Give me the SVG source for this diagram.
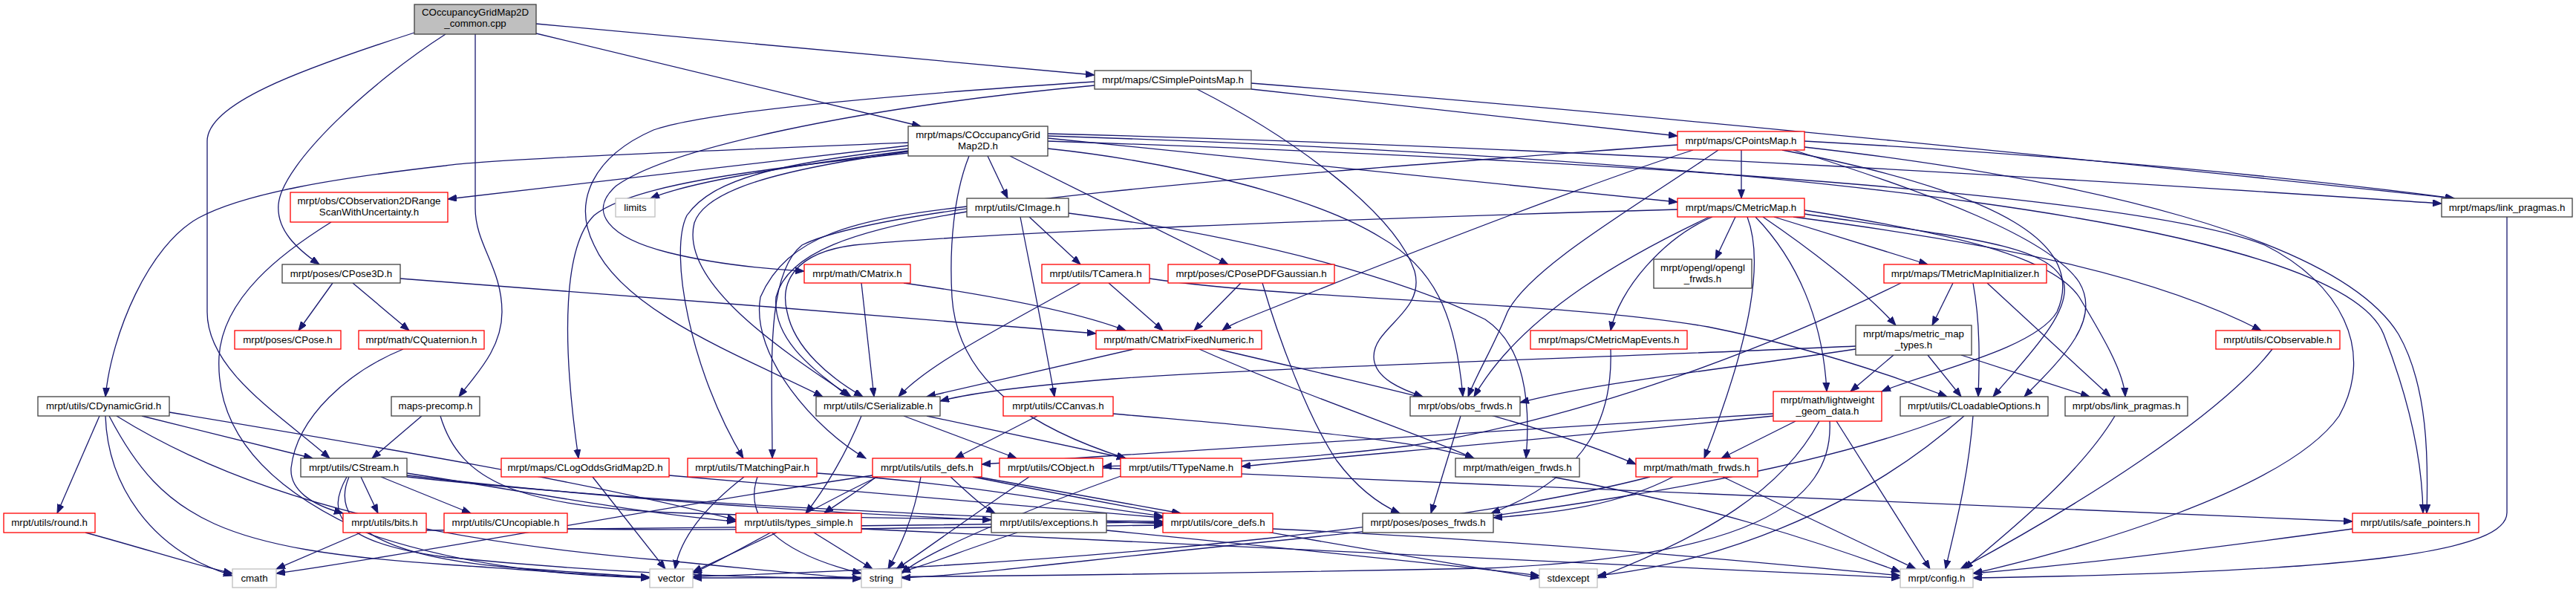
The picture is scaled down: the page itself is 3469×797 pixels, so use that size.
<svg xmlns="http://www.w3.org/2000/svg" width="3469" height="797" viewBox="0 0 3469 797">
<style>
.n rect{fill:#fff;stroke-width:1.3}
.blk rect{stroke:#404040}
.red rect{stroke:#ff0000}
.gry rect{stroke:#bfbfbf}
.root rect{fill:#bfbfbf;stroke:#404040}
.n text{font-family:"Liberation Sans",Arial,sans-serif;font-size:13.3px;fill:#000;text-anchor:middle}
#edges path{fill:none;stroke:#191970;stroke-width:1.3;marker-end:url(#ah)}
</style>
<defs>
<marker id="ah" markerUnits="userSpaceOnUse" markerWidth="13" markerHeight="10" refX="12" refY="4.5" orient="auto"><path d="M0,0 L12,4.5 L0,9 z" fill="#191970" stroke="#191970" stroke-width="1"/></marker>
</defs>
<rect width="3469" height="797" fill="#fff"/>
<g id="edges">
<path d="M722,32 L1474,101"/>
<path d="M722,45 L1240,170"/>
<path d="M600,46 C500,110 380,220 375,275 C372,310 400,335 430,356"/>
<path d="M558,44 C400,95 279,140 279,190 L279,420 C279,500 380,560 444,617"/>
<path d="M640,46 L640,280 C640,330 676,360 676,420 C676,470 640,505 618,534"/>
<path d="M1685,120 L2259,183"/>
<path d="M1685,112 C2300,160 3000,235 3305,267"/>
<path d="M1612,120 C1750,190 1880,290 1905,365 C1920,420 1850,440 1850,480 C1850,510 1890,525 1916,534"/>
<path d="M1474,110 C1200,128 950,150 880,175 C800,210 770,270 800,330 C840,420 1000,480 1108,534"/>
<path d="M1474,115 C1150,145 900,200 830,250 C790,285 820,320 900,340 C960,355 1030,362 1083,365"/>
<path d="M1223,196 L603,268"/>
<path d="M1223,203 C1050,225 930,245 876,267"/>
<path d="M1223,192 C900,205 650,215 600,223 C450,240 330,260 268,293 C200,330 150,450 142,534"/>
<path d="M1223,206 C1000,230 850,250 800,290 C760,330 755,450 779,617"/>
<path d="M1223,200 C1050,220 960,240 925,290 C900,340 930,500 1001,617"/>
<path d="M1223,204 C1050,228 950,255 935,300 C915,380 1050,470 1146,534"/>
<path d="M1330,210 L1357,267"/>
<path d="M1360,210 L1654,356"/>
<path d="M1305,210 C1285,260 1278,330 1282,400 C1290,520 1400,580 1516,617"/>
<path d="M1411,186 L2259,272"/>
<path d="M1411,180 C2200,200 3000,255 3288,274"/>
<path d="M1411,183 C2400,215 3150,300 3210,450 C3245,540 3262,620 3263,691"/>
<path d="M1411,200 C1600,220 1780,270 1860,320 C1930,360 1960,420 1970,534"/>
<path d="M1411,190 C2300,220 2900,270 3050,330 C3150,380 3200,470 3150,560 C3080,660 2800,740 2657,772"/>
<path d="M2345,202 L2345,267"/>
<path d="M2430,190 C2800,210 3100,240 3305,267"/>
<path d="M2280,202 C2100,260 1800,380 1700,420 C1670,432 1655,438 1646,445"/>
<path d="M2314,202 C2200,280 2060,360 2030,420 C2010,470 1990,500 1977,534"/>
<path d="M2415,202 C2600,260 2760,320 2800,380 C2830,430 2780,480 2726,534"/>
<path d="M2430,198 C2800,240 3150,320 3230,450 C3270,520 3270,620 3268,691"/>
<path d="M2400,202 C2700,260 2810,330 2770,420 C2740,470 2600,500 2534,527"/>
<path d="M2259,195 C1800,230 1200,270 1080,330 C1030,370 1040,500 1040,617"/>
<path d="M2337,292 L2310,349"/>
<path d="M2306,292 C2240,320 2180,390 2169,445"/>
<path d="M2302,292 C2200,340 2050,420 1985,534"/>
<path d="M2353,292 C2375,350 2360,450 2295,617"/>
<path d="M2364,292 C2420,350 2455,430 2460,527"/>
<path d="M2374,292 C2430,330 2510,390 2553,438"/>
<path d="M2389,292 L2596,356"/>
<path d="M2430,283 C2600,310 2760,340 2800,400 C2830,450 2860,500 2862,534"/>
<path d="M2430,288 C2650,320 2760,330 2779,380 C2790,420 2730,480 2684,534"/>
<path d="M2415,292 C2700,330 2900,370 3045,445"/>
<path d="M2259,282 C1800,295 1300,315 1150,330 C1070,340 1050,380 1060,420 C1070,470 1120,510 1162,534"/>
<path d="M1386,292 L1455,356"/>
<path d="M1374,292 C1385,350 1400,420 1420,534"/>
<path d="M1302,285 C1150,310 1060,340 1045,400 C1040,460 1100,500 1143,534"/>
<path d="M1302,278 C1150,295 1060,317 1024,400 C1010,480 1100,580 1166,617"/>
<path d="M1439,287 C1700,320 1900,380 2000,430 C2060,470 2060,560 2055,617"/>
<path d="M1160,381 L1177,534"/>
<path d="M1217,381 C1350,400 1450,420 1516,445"/>
<path d="M1493,381 L1566,445"/>
<path d="M1455,381 C1350,440 1250,490 1210,534"/>
<path d="M1548,375 C1750,405 2100,405 2300,440 C2450,470 2560,510 2622,534"/>
<path d="M1671,381 L1608,445"/>
<path d="M1700,381 C1720,450 1760,560 1800,620 C1830,660 1860,680 1885,691"/>
<path d="M2630,381 L2602,438"/>
<path d="M2657,381 C2668,440 2665,500 2664,534"/>
<path d="M2676,381 L2842,534"/>
<path d="M2560,381 C2400,460 2150,560 1900,600 C1700,625 1550,625 1485,628"/>
<path d="M2550,478 L2492,527"/>
<path d="M2596,478 L2641,534"/>
<path d="M2641,478 L2814,534"/>
<path d="M2499,466 C2200,480 1700,495 1500,510 C1400,518 1310,528 1266,540"/>
<path d="M2499,470 C2300,500 2150,515 2047,542"/>
<path d="M1527,470 L1248,534"/>
<path d="M1615,470 C1750,530 1900,580 1985,617"/>
<path d="M1640,470 C1850,520 2050,560 2203,625"/>
<path d="M2169,470 C2172,557 2142,640 2008,691"/>
<path d="M3060,470 C2990,560 2800,680 2640,766"/>
<path d="M134,560 L77,691"/>
<path d="M142,560 C145,650 200,740 313,775"/>
<path d="M147,560 C220,700 300,740 600,760 C750,770 820,776 875,778"/>
<path d="M157,560 C350,680 600,730 900,755 C1000,765 1100,775 1160,779"/>
<path d="M191,560 L421,617"/>
<path d="M228,555 C500,600 800,650 991,700"/>
<path d="M568,560 L501,617"/>
<path d="M593,560 C620,650 700,680 900,690 C1200,700 1450,700 1566,702"/>
<path d="M1217,560 L1369,617"/>
<path d="M1160,560 C1140,610 1110,660 1085,691"/>
<path d="M1248,560 L1516,617"/>
<path d="M1397,560 L1286,617"/>
<path d="M1499,557 C1700,575 1900,590 1985,617"/>
<path d="M1967,560 L1927,691"/>
<path d="M2418,567 L2318,617"/>
<path d="M2473,567 L2599,766"/>
<path d="M2450,567 C2400,660 2300,720 2151,778"/>
<path d="M2464,567 C2470,680 2350,750 2000,765 C1500,775 1100,778 933,778"/>
<path d="M2388,557 C2100,575 1700,600 1322,625"/>
<path d="M2388,560 C2100,590 1800,615 1672,628"/>
<path d="M2657,560 C2650,650 2630,720 2620,766"/>
<path d="M2645,560 C2500,690 2300,760 2151,775"/>
<path d="M2628,560 C2400,650 2000,700 1700,730 C1450,755 1300,775 1214,778"/>
<path d="M2848,560 C2800,640 2700,720 2645,766"/>
<path d="M3376,292 L3376,690 C3376,740 3200,770 2657,778"/>
<path d="M3168,712 C3000,735 2800,760 2657,772"/>
<path d="M486,642 L509,691"/>
<path d="M513,642 L634,691"/>
<path d="M548,637 C700,660 850,690 991,702"/>
<path d="M548,640 C800,670 1100,690 1335,700"/>
<path d="M548,642 C900,680 1300,695 1566,705"/>
<path d="M467,642 C440,690 450,730 600,750 C800,770 1000,778 1160,779"/>
<path d="M470,642 C445,700 500,750 700,765 C800,772 850,776 875,777"/>
<path d="M798,642 L896,766"/>
<path d="M901,640 C1100,655 1350,680 1566,697"/>
<path d="M1002,642 C940,690 915,730 909,766"/>
<path d="M1020,642 C1000,700 1050,745 1160,772"/>
<path d="M1100,637 C1300,650 1450,680 1566,695"/>
<path d="M1180,642 C1150,665 1125,680 1110,691"/>
<path d="M1317,642 L1590,691"/>
<path d="M1182,642 C1100,680 1000,740 933,772"/>
<path d="M1240,642 C1230,700 1210,740 1196,766"/>
<path d="M1175,640 C900,680 600,740 372,772"/>
<path d="M1280,642 C1300,660 1320,680 1340,691"/>
<path d="M1310,642 C1600,700 1900,750 2073,778"/>
<path d="M1485,630 C2200,660 2800,690 3168,702"/>
<path d="M1386,642 C1300,700 1240,745 1207,766"/>
<path d="M1512,640 C1400,680 1250,740 1214,772"/>
<path d="M2090,642 C2300,680 2450,730 2559,770"/>
<path d="M2320,642 L2580,766"/>
<path d="M2253,642 C2180,680 2100,690 2011,697"/>
<path d="M2222,642 C2000,700 1500,760 933,776"/>
<path d="M115,717 C200,740 260,760 313,772"/>
<path d="M486,717 L372,766"/>
<path d="M574,714 C900,712 1300,705 1566,703"/>
<path d="M764,712 C1000,715 1300,710 1566,707"/>
<path d="M1046,717 L933,770"/>
<path d="M1096,717 L1175,766"/>
<path d="M1370,717 C1300,740 1250,760 1214,770"/>
<path d="M1490,714 C1700,735 1950,760 2073,775"/>
<path d="M1714,712 C2100,730 2400,760 2559,775"/>
<path d="M1160,712 C1600,730 2200,765 2559,778"/>
<path d="M543,470 C470,500 400,560 392,630 C390,660 420,680 462,691"/>
<path d="M446,299 C380,340 300,400 295,480 C290,580 360,660 500,720 C650,770 800,776 875,778"/>
<path d="M448,381 L402,445"/>
<path d="M475,381 L551,445"/>
<path d="M539,375 C800,395 1200,425 1476,449"/>
</g>
<g id="n_root" class="n root"><rect x="558" y="6" width="164" height="40"/><text x="640" y="21">COccupancyGridMap2D</text><text x="640" y="36">_common.cpp</text></g>
<g id="n_spm" class="n blk"><rect x="1474" y="95" width="211" height="25"/><text x="1579.5" y="112">mrpt/maps/CSimplePointsMap.h</text></g>
<g id="n_ogm" class="n blk"><rect x="1223" y="170" width="188" height="40"/><text x="1317" y="186">mrpt/maps/COccupancyGrid</text><text x="1317" y="201">Map2D.h</text></g>
<g id="n_pm" class="n red"><rect x="2259" y="177" width="171" height="25"/><text x="2344.5" y="194">mrpt/maps/CPointsMap.h</text></g>
<g id="n_obs2d" class="n red"><rect x="391" y="259" width="212" height="40"/><text x="497" y="275">mrpt/obs/CObservation2DRange</text><text x="497" y="290">ScanWithUncertainty.h</text></g>
<g id="n_limits" class="n gry"><rect x="829" y="267" width="53" height="25"/><text x="855.5" y="284">limits</text></g>
<g id="n_cimage" class="n blk"><rect x="1302" y="267" width="137" height="25"/><text x="1370.5" y="284">mrpt/utils/CImage.h</text></g>
<g id="n_mm" class="n red"><rect x="2259" y="267" width="171" height="25"/><text x="2344.5" y="284">mrpt/maps/CMetricMap.h</text></g>
<g id="n_mlp" class="n blk"><rect x="3288" y="267" width="176" height="25"/><text x="3376" y="284">mrpt/maps/link_pragmas.h</text></g>
<g id="n_cpose3d" class="n blk"><rect x="380" y="356" width="159" height="25"/><text x="459.5" y="373">mrpt/poses/CPose3D.h</text></g>
<g id="n_cmatrix" class="n red"><rect x="1083" y="356" width="143" height="25"/><text x="1154.5" y="373">mrpt/math/CMatrix.h</text></g>
<g id="n_tcamera" class="n red"><rect x="1403" y="356" width="145" height="25"/><text x="1475.5" y="373">mrpt/utils/TCamera.h</text></g>
<g id="n_pdfg" class="n red"><rect x="1573" y="356" width="224" height="25"/><text x="1685" y="373">mrpt/poses/CPosePDFGaussian.h</text></g>
<g id="n_ogl" class="n blk"><rect x="2227" y="349" width="132" height="39"/><text x="2293" y="365">mrpt/opengl/opengl</text><text x="2293" y="380">_frwds.h</text></g>
<g id="n_tmmi" class="n red"><rect x="2537" y="356" width="219" height="25"/><text x="2646.5" y="373">mrpt/maps/TMetricMapInitializer.h</text></g>
<g id="n_cpose" class="n red"><rect x="316" y="445" width="143" height="25"/><text x="387.5" y="462">mrpt/poses/CPose.h</text></g>
<g id="n_cquat" class="n red"><rect x="483" y="445" width="169" height="25"/><text x="567.5" y="462">mrpt/math/CQuaternion.h</text></g>
<g id="n_cmfn" class="n red"><rect x="1476" y="445" width="223" height="25"/><text x="1587.5" y="462">mrpt/math/CMatrixFixedNumeric.h</text></g>
<g id="n_cmme" class="n red"><rect x="2061" y="445" width="211" height="25"/><text x="2166.5" y="462">mrpt/maps/CMetricMapEvents.h</text></g>
<g id="n_mmt" class="n blk"><rect x="2499" y="438" width="156" height="40"/><text x="2577" y="454">mrpt/maps/metric_map</text><text x="2577" y="469">_types.h</text></g>
<g id="n_cobsv" class="n red"><rect x="2984" y="445" width="167" height="25"/><text x="3067.5" y="462">mrpt/utils/CObservable.h</text></g>
<g id="n_cdg" class="n blk"><rect x="51" y="534" width="177" height="26"/><text x="139.5" y="551">mrpt/utils/CDynamicGrid.h</text></g>
<g id="n_mpc" class="n blk"><rect x="527" y="534" width="119" height="26"/><text x="586.5" y="551">maps-precomp.h</text></g>
<g id="n_cser" class="n blk"><rect x="1099" y="534" width="167" height="26"/><text x="1182.5" y="551">mrpt/utils/CSerializable.h</text></g>
<g id="n_ccanvas" class="n red"><rect x="1351" y="534" width="148" height="26"/><text x="1425" y="551">mrpt/utils/CCanvas.h</text></g>
<g id="n_obsf" class="n blk"><rect x="1899" y="534" width="148" height="26"/><text x="1973" y="551">mrpt/obs/obs_frwds.h</text></g>
<g id="n_lwg" class="n red"><rect x="2388" y="527" width="146" height="40"/><text x="2461" y="543">mrpt/math/lightweight</text><text x="2461" y="558">_geom_data.h</text></g>
<g id="n_clo" class="n blk"><rect x="2559" y="534" width="199" height="26"/><text x="2658.5" y="551">mrpt/utils/CLoadableOptions.h</text></g>
<g id="n_olp" class="n blk"><rect x="2781" y="534" width="165" height="26"/><text x="2863.5" y="551">mrpt/obs/link_pragmas.h</text></g>
<g id="n_cstream" class="n blk"><rect x="405" y="617" width="143" height="25"/><text x="476.5" y="634">mrpt/utils/CStream.h</text></g>
<g id="n_clog" class="n red"><rect x="675" y="617" width="226" height="25"/><text x="788" y="634">mrpt/maps/CLogOddsGridMap2D.h</text></g>
<g id="n_tmp" class="n red"><rect x="926" y="617" width="174" height="25"/><text x="1013" y="634">mrpt/utils/TMatchingPair.h</text></g>
<g id="n_ud" class="n red"><rect x="1175" y="617" width="147" height="25"/><text x="1248.5" y="634">mrpt/utils/utils_defs.h</text></g>
<g id="n_cobj" class="n red"><rect x="1346" y="617" width="139" height="25"/><text x="1415.5" y="634">mrpt/utils/CObject.h</text></g>
<g id="n_ttn" class="n red"><rect x="1509" y="617" width="163" height="25"/><text x="1590.5" y="634">mrpt/utils/TTypeName.h</text></g>
<g id="n_ef" class="n blk"><rect x="1960" y="617" width="167" height="25"/><text x="2043.5" y="634">mrpt/math/eigen_frwds.h</text></g>
<g id="n_mf" class="n red"><rect x="2203" y="617" width="164" height="25"/><text x="2285" y="634">mrpt/math/math_frwds.h</text></g>
<g id="n_round" class="n red"><rect x="5" y="691" width="123" height="26"/><text x="66.5" y="708">mrpt/utils/round.h</text></g>
<g id="n_bits" class="n red"><rect x="462" y="691" width="112" height="26"/><text x="518" y="708">mrpt/utils/bits.h</text></g>
<g id="n_cunc" class="n red"><rect x="598" y="691" width="166" height="26"/><text x="681" y="708">mrpt/utils/CUncopiable.h</text></g>
<g id="n_ts" class="n red"><rect x="991" y="691" width="169" height="26"/><text x="1075.5" y="708">mrpt/utils/types_simple.h</text></g>
<g id="n_exc" class="n blk"><rect x="1335" y="691" width="155" height="26"/><text x="1412.5" y="708">mrpt/utils/exceptions.h</text></g>
<g id="n_cd" class="n red"><rect x="1566" y="691" width="148" height="26"/><text x="1640" y="708">mrpt/utils/core_defs.h</text></g>
<g id="n_pf" class="n blk"><rect x="1835" y="691" width="176" height="26"/><text x="1923" y="708">mrpt/poses/poses_frwds.h</text></g>
<g id="n_sp" class="n red"><rect x="3168" y="691" width="170" height="26"/><text x="3253" y="708">mrpt/utils/safe_pointers.h</text></g>
<g id="n_cmath" class="n gry"><rect x="313" y="766" width="59" height="25"/><text x="342.5" y="783">cmath</text></g>
<g id="n_vector" class="n gry"><rect x="875" y="766" width="58" height="25"/><text x="904" y="783">vector</text></g>
<g id="n_string" class="n gry"><rect x="1160" y="766" width="54" height="25"/><text x="1187" y="783">string</text></g>
<g id="n_stdexcept" class="n gry"><rect x="2073" y="766" width="78" height="25"/><text x="2112" y="783">stdexcept</text></g>
<g id="n_config" class="n gry"><rect x="2559" y="766" width="98" height="25"/><text x="2608" y="783">mrpt/config.h</text></g>
</svg>
